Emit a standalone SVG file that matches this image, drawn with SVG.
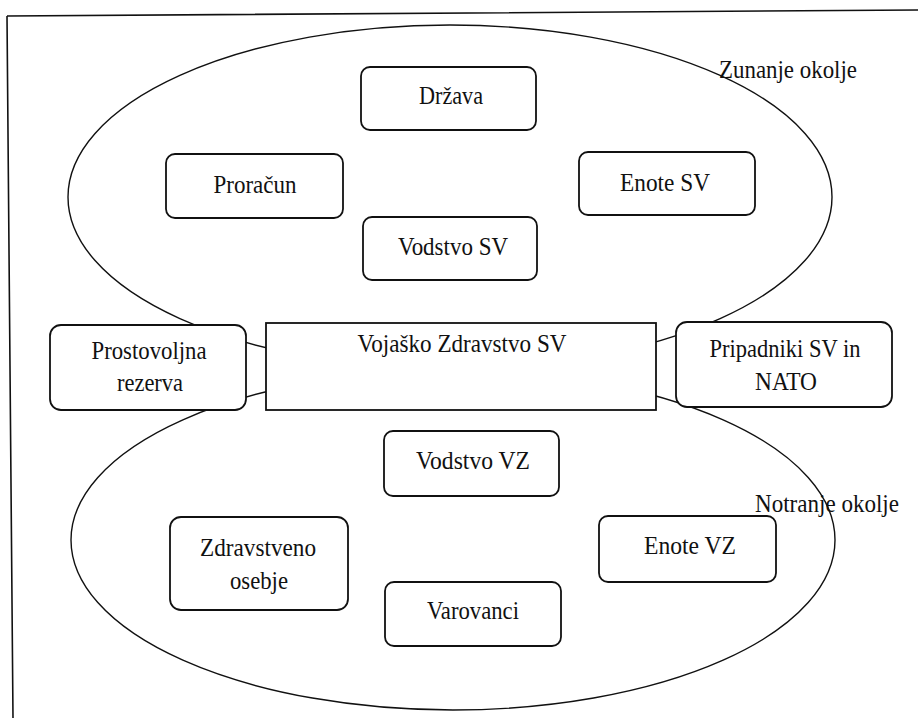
<svg xmlns="http://www.w3.org/2000/svg" width="918" height="718" viewBox="0 0 918 718">
<style>
.bg{fill:#ffffff}
.frame{fill:none;stroke:#111;stroke-width:1.6}
.region{fill:none;stroke:#111;stroke-width:1.4}
.box{fill:#ffffff;stroke:#111;stroke-width:1.8}
.t{font-family:'Liberation Serif','Times New Roman',serif;font-size:26px;fill:#111}
.c{text-anchor:middle}
</style>
<defs/>
<rect class="bg" x="0" y="0" width="918" height="718"/>
<g id="frame">
<path class="frame" d="M7 16 L918 10 M7 16 L13 718"/>
</g>
<g id="connectors">
<ellipse id="outer-env" class="region" cx="450" cy="197" rx="382" ry="172"/>
<ellipse id="inner-env" class="region" cx="453" cy="540" rx="382" ry="170"/>
</g>
<g id="label-zunanje"><text class="t" x="719" y="78" textLength="138" lengthAdjust="spacingAndGlyphs">Zunanje okolje</text></g>
<g id="label-notranje"><text class="t" x="755" y="512" textLength="144" lengthAdjust="spacingAndGlyphs">Notranje okolje</text></g>
<g id="drzava"><rect class="box" x="361" y="67" width="175" height="63" rx="9"/><text class="t c" x="451" y="104" textLength="64" lengthAdjust="spacingAndGlyphs">Država</text></g>
<g id="proracun"><rect class="box" x="166" y="154" width="177" height="64" rx="9"/><text class="t c" x="255" y="193" textLength="83" lengthAdjust="spacingAndGlyphs">Proračun</text></g>
<g id="enote-sv"><rect class="box" x="579" y="152" width="176" height="63" rx="9"/><text class="t c" x="665" y="191" textLength="90" lengthAdjust="spacingAndGlyphs">Enote SV</text></g>
<g id="vodstvo-sv"><rect class="box" x="363" y="217" width="174" height="63" rx="9"/><text class="t c" x="453" y="255" textLength="110" lengthAdjust="spacingAndGlyphs">Vodstvo SV</text></g>
<g id="prostovoljna"><rect class="box" x="50" y="325" width="196" height="85" rx="11"/><text class="t c" x="149" y="359" textLength="115" lengthAdjust="spacingAndGlyphs">Prostovoljna</text><text class="t c" x="150" y="391" textLength="66" lengthAdjust="spacingAndGlyphs">rezerva</text></g>
<g id="vojasko"><rect class="box" x="266" y="323" width="390" height="87"/><text class="t c" x="462" y="352" textLength="209" lengthAdjust="spacingAndGlyphs">Vojaško Zdravstvo SV</text></g>
<g id="pripadniki"><rect class="box" x="676" y="322" width="216" height="85" rx="11"/><text class="t c" x="785" y="357" textLength="151" lengthAdjust="spacingAndGlyphs">Pripadniki SV in</text><text class="t c" x="786" y="390" textLength="62" lengthAdjust="spacingAndGlyphs">NATO</text></g>
<g id="vodstvo-vz"><rect class="box" x="384" y="431" width="175" height="65" rx="9"/><text class="t c" x="473" y="469" textLength="114" lengthAdjust="spacingAndGlyphs">Vodstvo VZ</text></g>
<g id="zdravstveno"><rect class="box" x="170" y="517" width="178" height="93" rx="11"/><text class="t c" x="258" y="556" textLength="116" lengthAdjust="spacingAndGlyphs">Zdravstveno</text><text class="t c" x="259" y="589" textLength="58" lengthAdjust="spacingAndGlyphs">osebje</text></g>
<g id="enote-vz"><rect class="box" x="599" y="516" width="177" height="66" rx="9"/><text class="t c" x="690" y="554" textLength="92" lengthAdjust="spacingAndGlyphs">Enote VZ</text></g>
<g id="varovanci"><rect class="box" x="385" y="582" width="176" height="64" rx="9"/><text class="t c" x="473" y="619" textLength="92" lengthAdjust="spacingAndGlyphs">Varovanci</text></g>
</svg>
